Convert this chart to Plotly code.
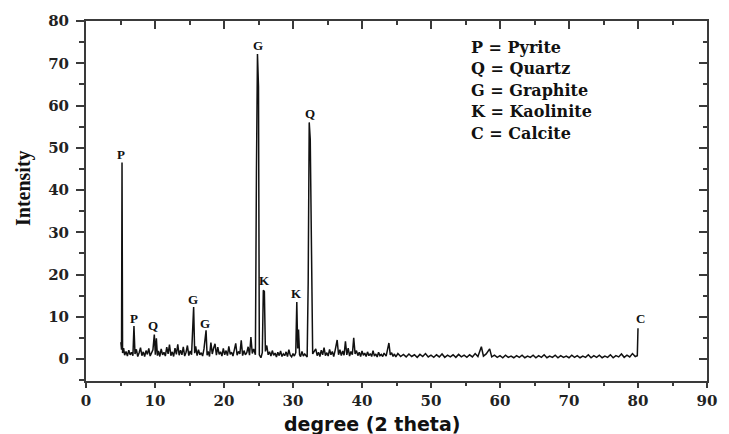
import plotly.graph_objects as go

# XRD pattern (2-theta in degrees, intensity)
two_theta = [
    5.05, 5.15, 5.22, 5.3, 5.45, 5.6, 5.8, 6.0, 6.2, 6.4, 6.6, 6.8, 6.95, 7.1, 7.3, 7.5, 7.7, 7.9,
    8.1, 8.3, 8.5, 8.7, 8.9, 9.1, 9.3, 9.5, 9.7, 9.9, 10.05, 10.2, 10.35, 10.5, 10.7, 10.9,
    11.1, 11.3, 11.5, 11.7, 11.9, 12.1, 12.3, 12.5, 12.7, 12.9, 13.1, 13.3, 13.5, 13.7, 13.9,
    14.1, 14.3, 14.5, 14.7, 14.9, 15.1, 15.3, 15.6, 15.75, 15.9, 16.1, 16.3, 16.5, 16.7, 16.9,
    17.1, 17.4, 17.55, 17.7, 17.9, 18.1, 18.3, 18.5, 18.7, 18.9, 19.1, 19.3, 19.5, 19.7, 19.9,
    20.1, 20.3, 20.5, 20.7, 20.9, 21.1, 21.3, 21.5, 21.7, 21.9, 22.1, 22.3, 22.5, 22.7, 22.9,
    23.1, 23.3, 23.5, 23.7, 23.9, 24.1, 24.3, 24.55, 24.7, 24.85, 25.0, 25.12, 25.35, 25.55,
    25.7, 25.85, 26.0, 26.2, 26.4, 26.6, 26.8, 27.0, 27.2, 27.4, 27.6, 27.8, 28.0, 28.2, 28.4,
    28.6, 28.8, 29.0, 29.2, 29.4, 29.6, 29.8, 30.0, 30.2, 30.4, 30.55, 30.68, 30.8, 30.95,
    31.1, 31.3, 31.5, 31.7, 32.05, 32.2, 32.35, 32.5, 32.7, 32.85, 33.3, 33.5, 33.7, 33.9,
    34.1, 34.3, 34.5, 34.7, 34.9, 35.1, 35.3, 35.5, 35.7, 35.9, 36.1, 36.4, 36.6, 36.8,
    37.0, 37.2, 37.4, 37.6, 37.8, 38.0, 38.2, 38.4, 38.6, 38.8, 39.0, 39.2, 39.4, 39.6, 39.8,
    40.0, 40.2, 40.4, 40.6, 40.8, 41.0, 41.2, 41.4, 41.6, 41.8, 42.0, 42.2, 42.4, 42.6, 42.8,
    43.0, 43.2, 43.5, 43.9, 44.1, 44.3, 44.5, 44.7, 44.9, 45.2, 45.6, 46.0, 46.4, 46.8,
    47.2, 47.6, 48.0, 48.4, 48.8, 49.2, 49.6, 50.0, 50.4, 50.8, 51.2, 51.6, 52.0, 52.4, 52.8,
    53.2, 53.6, 54.0, 54.4, 54.8, 55.2, 55.6, 56.0, 56.4, 56.8, 57.3, 57.6, 58.0, 58.5, 58.8,
    59.2, 59.6, 60.0, 60.4, 60.8, 61.2, 61.6, 62.0, 62.4, 62.8, 63.2, 63.6, 64.0, 64.4, 64.8,
    65.2, 65.6, 66.0, 66.4, 66.8, 67.2, 67.6, 68.0, 68.4, 68.8, 69.2, 69.6, 70.0, 70.4, 70.8,
    71.2, 71.6, 72.0, 72.4, 72.8, 73.2, 73.6, 74.0, 74.4, 74.8, 75.2, 75.6, 76.0, 76.4, 76.8,
    77.2, 77.6, 78.0, 78.4, 78.8, 79.2, 79.6, 79.9, 80.0,
]
intensity = [
    4.0, 2.2, 46.5, 1.4, 2.6, 0.9, 1.8, 0.7, 2.1, 1.0, 1.6, 0.8, 7.8, 1.2, 2.3, 0.6, 1.5, 2.7,
    0.8, 1.7, 0.6, 2.0, 1.1, 2.5, 0.7, 1.4, 2.2, 5.8, 1.0, 4.9, 0.8, 1.9, 0.6, 2.4,
    1.0, 1.6, 0.7, 2.8, 1.2, 3.4, 0.8, 1.7, 0.6, 2.6, 1.1, 3.5, 0.9, 2.1, 1.0,
    2.9, 0.7, 1.6, 3.2, 0.8, 1.9, 1.0, 12.3, 1.4, 3.0, 0.8, 2.2, 1.0, 1.5, 0.7,
    2.4, 6.8, 0.9, 1.8, 0.6, 3.9, 1.2, 2.6, 3.6, 0.9, 2.8, 1.1, 1.7, 0.7, 2.5,
    1.0, 2.0, 0.8, 3.0, 1.1, 1.6, 0.7, 2.2, 3.7, 0.9, 1.8, 1.2, 4.4, 0.8, 2.0,
    1.0, 1.5, 2.9, 0.9, 5.2, 1.3, 2.4, 1.0, 44.0, 72.2, 64.5, 1.0, 0.3, 1.5,
    16.3, 16.0, 1.8, 3.2, 1.0, 1.7, 0.7, 2.0, 0.9, 1.4, 0.5, 1.6, 0.8, 1.9, 0.6,
    1.2, 0.8, 1.7, 0.6, 2.2, 0.9, 0.5, 1.3, 0.7, 1.5, 13.5, 2.5, 7.0, 1.0,
    0.6, 1.8, 0.7, 1.2, 0.5, 18.0, 56.0, 52.0, 21.0, 1.2, 2.4, 0.8, 1.6, 0.6,
    2.1, 1.0, 2.7, 0.8, 1.5, 0.7, 2.3, 1.0, 1.8, 0.6, 2.0, 4.5, 1.0, 2.2,
    0.8, 1.9, 0.9, 4.2, 1.0, 2.6, 0.7, 1.8, 1.0, 5.0, 1.2, 2.0, 0.8, 1.6, 0.6,
    1.9, 0.9, 1.4, 0.6, 1.7, 0.8, 1.3, 0.6, 2.0, 0.7, 1.2, 0.5, 1.6, 0.8, 1.1,
    0.6, 1.4, 0.7, 3.8, 1.0, 1.5, 0.6, 1.2, 0.5, 1.3, 0.6, 1.1, 0.5, 1.2,
    0.6, 1.0, 0.4, 1.1, 0.6, 1.3, 0.5, 0.9, 0.4, 1.0, 0.5, 1.2, 0.4, 0.9, 0.5,
    1.0, 0.4, 1.1, 0.5, 0.9, 0.4, 1.0, 0.5, 1.3, 0.6, 2.9, 0.7, 1.2, 2.4, 0.5,
    0.9, 0.4, 0.8, 0.3, 0.9, 0.4, 0.7, 0.3, 0.8, 0.4, 0.9, 0.3, 0.7, 0.4, 0.9,
    0.3, 0.8, 0.4, 1.0, 0.3, 0.7, 0.4, 0.9, 0.3, 0.8, 0.4, 0.7, 0.3, 0.9, 0.4,
    0.8, 0.3, 0.7, 0.4, 1.0, 0.3, 0.8, 0.4, 0.9, 0.3, 0.7, 0.4, 1.0, 0.3, 0.8,
    0.5, 1.2, 0.4, 0.9, 0.5, 1.3, 0.6, 0.8, 7.3,
]

# Peak labels
label_text = ["P", "P", "Q", "G", "G", "G", "K", "K", "Q", "C"]
label_x = [5.0, 7.0, 9.7, 15.5, 17.2, 24.9, 25.8, 30.5, 32.5, 80.4]
label_y = [48.3, 9.7, 8.0, 14.2, 8.5, 74.1, 18.7, 15.6, 58.2, 9.5]

# Phase key
key_lines = ["P = Pyrite", "Q = Quartz", "G = Graphite", "K = Kaolinite", "C = Calcite"]

x_ticks = [0, 10, 20, 30, 40, 50, 60, 70, 80, 90]
y_ticks = [0, 10, 20, 30, 40, 50, 60, 70, 80]
x_range = [0, 90]
y_range = [-5.2, 80]

serif_wide = "DejaVu Serif, serif"
serif = "Liberation Serif, Times New Roman, serif"
sans = "DejaVu Sans, Arial, sans-serif"
axis_col = "#3a3a3a"

fig = go.Figure()
fig.add_trace(go.Scatter(x=two_theta, y=intensity, mode="lines",
                         line=dict(color="#111111", width=1.5), showlegend=False,
                         hoverinfo="skip"))
# dummy trace to materialise the mirror axes (top / right with inside ticks)
fig.add_trace(go.Scatter(x=[None], y=[None], xaxis="x2", yaxis="y2",
                         showlegend=False, hoverinfo="skip"))

for t, xv, yv in zip(label_text, label_x, label_y):
    fig.add_annotation(x=xv, y=yv, text=t, showarrow=False, xanchor="center", yanchor="middle",
                       font=dict(family=serif, size=13, color="#111", weight="bold"))

plot_top, plot_bot = 21, 381
key_py = [48, 69, 90, 111, 133]
for t, py in zip(key_lines, key_py):
    fig.add_annotation(xref="paper", yref="paper", x=(473 - 86) / 628, y=(plot_bot - py) / (plot_bot - plot_top),
                       text=t, showarrow=False, xanchor="left", yanchor="middle",
                       font=dict(family=serif_wide, size=16, color="#111", weight="bold"))

fig.add_annotation(xref="paper", yref="paper", x=0, xshift=-63, y=(plot_bot - 188) / (plot_bot - plot_top),
                   text="Intensity", textangle=-90, showarrow=False, xanchor="center", yanchor="middle",
                   font=dict(family=serif, size=20, color="#111", weight="bold"))
fig.add_annotation(xref="paper", yref="paper", x=(375 - 86) / 628, y=0, yshift=-43,
                   text="degree (2 theta)", showarrow=False, xanchor="center", yanchor="middle",
                   font=dict(family=sans, size=19, color="#111", weight="bold"))

tickfont = dict(family=serif_wide, size=15, color="#222", weight="bold")
common = dict(showline=True, linecolor=axis_col, linewidth=2, showgrid=False, zeroline=False,
              tickcolor=axis_col, tickwidth=2, ticklen=8)

fig.update_layout(
    width=729, height=434,
    margin=dict(l=86, r=15, t=plot_top, b=434 - plot_bot),
    paper_bgcolor="white", plot_bgcolor="white",
    xaxis=dict(range=x_range, tickvals=x_ticks, ticks="outside", tickfont=tickfont,
               ticklabelstandoff=0,
               minor=dict(dtick=5, ticks="outside", ticklen=3, tickwidth=2, tickcolor=axis_col),
               **{**common, "ticklen": 5}),
    yaxis=dict(range=y_range, tickvals=y_ticks, ticks="outside", tickfont=tickfont,
               ticklabelstandoff=4,
               minor=dict(dtick=5, ticks="outside", ticklen=5, tickwidth=2, tickcolor=axis_col),
               **common),
    xaxis2=dict(range=x_range, overlaying="x", side="top", tickvals=x_ticks, ticks="inside",
                showticklabels=False,
                minor=dict(dtick=5, ticks="inside", ticklen=4, tickwidth=2, tickcolor=axis_col),
                **common),
    yaxis2=dict(range=y_range, overlaying="y", side="right", tickvals=y_ticks, ticks="inside",
                showticklabels=False,
                minor=dict(dtick=5, ticks="inside", ticklen=4, tickwidth=2, tickcolor=axis_col),
                **common),
)

fig.write_html("out.html")
